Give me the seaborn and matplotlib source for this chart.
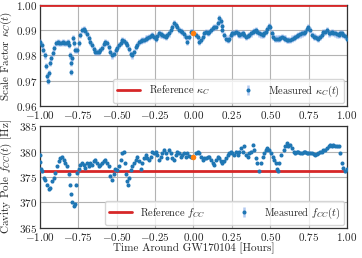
import matplotlib
matplotlib.use("Agg")
import matplotlib.pyplot as plt
import numpy as np
import pandas as pd
import seaborn as sns

# scale factor kappa_C(t), time in hours around GW170104
t_kappa = [
    -1.000, -0.989, -0.978, -0.967, -0.959, -0.953, -0.948, -0.943, -0.937, -0.928,
    -0.918, -0.907, -0.896, -0.885, -0.874, -0.863, -0.852, -0.841, -0.830, -0.819,
    -0.808, -0.802, -0.798, -0.795, -0.790, -0.785, -0.780, -0.770, -0.759, -0.748,
    -0.737, -0.726, -0.715, -0.704, -0.693, -0.682, -0.671, -0.660, -0.650, -0.639,
    -0.628, -0.617, -0.606, -0.596, -0.585, -0.574, -0.563, -0.552, -0.541, -0.530,
    -0.519, -0.507, -0.497, -0.486, -0.475, -0.464, -0.453, -0.442, -0.431, -0.420,
    -0.410, -0.399, -0.388, -0.377, -0.366, -0.355, -0.344, -0.334, -0.323, -0.312,
    -0.301, -0.290, -0.279, -0.268, -0.258, -0.247, -0.236, -0.225, -0.214, -0.203,
    -0.193, -0.182, -0.171, -0.160, -0.149, -0.138, -0.127, -0.117, -0.106, -0.095,
    -0.084, -0.073, -0.062, -0.052, -0.041, -0.030, -0.019, -0.008, 0.016, 0.027,
    0.038, 0.048, 0.059, 0.070, 0.081, 0.092, 0.103, 0.114, 0.124, 0.135,
    0.146, 0.157, 0.168, 0.178, 0.185, 0.189, 0.200, 0.211, 0.222, 0.233,
    0.244, 0.254, 0.265, 0.276, 0.287, 0.298, 0.309, 0.320, 0.330, 0.341,
    0.352, 0.363, 0.374, 0.385, 0.396, 0.406, 0.417, 0.428, 0.439, 0.450,
    0.461, 0.472, 0.482, 0.493, 0.500, 0.511, 0.521, 0.532, 0.543, 0.554,
    0.565, 0.576, 0.587, 0.597, 0.608, 0.619, 0.630, 0.641, 0.652, 0.663,
    0.674, 0.684, 0.695, 0.706, 0.717, 0.728, 0.739, 0.745, 0.756, 0.771,
    0.782, 0.793, 0.803, 0.814, 0.825, 0.836, 0.847, 0.858, 0.869, 0.880,
    0.891, 0.902, 0.912, 0.923, 0.934, 0.945, 0.956, 0.966, 0.977, 0.988,
    0.999,
]
kappa = [
    0.9853, 0.9840, 0.9820, 0.9800, 0.9760, 0.9720, 0.9700, 0.9730, 0.9770, 0.9790,
    0.9810, 0.9830, 0.9850, 0.9853, 0.9848, 0.9850, 0.9853, 0.9848, 0.9850, 0.9853,
    0.9840, 0.9800, 0.9770, 0.9735, 0.9790, 0.9870, 0.9850, 0.9820, 0.9820, 0.9850,
    0.9880, 0.9900, 0.9905, 0.9895, 0.9885, 0.9870, 0.9853, 0.9840, 0.9825, 0.9813,
    0.9813, 0.9815, 0.9820, 0.9830, 0.9845, 0.9853, 0.9850, 0.9833, 0.9813, 0.9800,
    0.9805, 0.9820, 0.9830, 0.9840, 0.9850, 0.9860, 0.9857, 0.9850, 0.9840, 0.9827,
    0.9807, 0.9800, 0.9813, 0.9833, 0.9840, 0.9853, 0.9857, 0.9860, 0.9863, 0.9867,
    0.9870, 0.9873, 0.9877, 0.9880, 0.9873, 0.9867, 0.9877, 0.9887, 0.9883, 0.9880,
    0.9877, 0.9873, 0.9880, 0.9887, 0.9900, 0.9913, 0.9927, 0.9920, 0.9913, 0.9900,
    0.9897, 0.9893, 0.9883, 0.9873, 0.9853, 0.9873, 0.9893, 0.9893, 0.9880, 0.9873,
    0.9853, 0.9860, 0.9873, 0.9887, 0.9893, 0.9890, 0.9893, 0.9900, 0.9907, 0.9913,
    0.9913, 0.9927, 0.9947, 0.9935, 0.9915, 0.9900, 0.9880, 0.9867, 0.9860, 0.9867,
    0.9880, 0.9887, 0.9890, 0.9893, 0.9887, 0.9880, 0.9883, 0.9887, 0.9880, 0.9873,
    0.9877, 0.9880, 0.9887, 0.9893, 0.9897, 0.9900, 0.9893, 0.9887, 0.9883, 0.9880,
    0.9887, 0.9893, 0.9905, 0.9915, 0.9913, 0.9887, 0.9875, 0.9867, 0.9867, 0.9867,
    0.9870, 0.9873, 0.9870, 0.9867, 0.9863, 0.9860, 0.9863, 0.9867, 0.9870, 0.9873,
    0.9877, 0.9880, 0.9883, 0.9887, 0.9890, 0.9893, 0.9905, 0.9913, 0.9900, 0.9880,
    0.9875, 0.9873, 0.9870, 0.9867, 0.9873, 0.9880, 0.9893, 0.9893, 0.9900, 0.9887,
    0.9890, 0.9893, 0.9890, 0.9887, 0.9883, 0.9880, 0.9887, 0.9887, 0.9880, 0.9877,
    0.9867,
]
kappa_err = 0.0012
kappa_ref = 1.0

# coupled cavity pole f_CC(t) in Hz
t_fcc = [
    -1.000, -0.997, -0.993, -0.987, -0.976, -0.965, -0.954, -0.943, -0.933, -0.922,
    -0.911, -0.900, -0.889, -0.879, -0.868, -0.857, -0.846, -0.835, -0.824, -0.813,
    -0.807, -0.798, -0.792, -0.781, -0.774, -0.765, -0.759, -0.748, -0.737, -0.726,
    -0.716, -0.705, -0.694, -0.683, -0.672, -0.661, -0.650, -0.640, -0.629, -0.618,
    -0.607, -0.596, -0.585, -0.574, -0.564, -0.553, -0.542, -0.531, -0.520, -0.509,
    -0.496, -0.486, -0.475, -0.464, -0.453, -0.446, -0.442, -0.436, -0.427, -0.420,
    -0.410, -0.399, -0.388, -0.377, -0.366, -0.355, -0.344, -0.334, -0.323, -0.312,
    -0.301, -0.290, -0.279, -0.268, -0.258, -0.247, -0.236, -0.225, -0.214, -0.203,
    -0.193, -0.182, -0.171, -0.160, -0.149, -0.138, -0.127, -0.117, -0.106, -0.095,
    -0.084, -0.073, -0.062, -0.052, -0.041, -0.030, -0.019, -0.008, 0.016, 0.027,
    0.038, 0.048, 0.059, 0.070, 0.081, 0.092, 0.103, 0.114, 0.124, 0.135,
    0.146, 0.157, 0.168, 0.178, 0.189, 0.200, 0.211, 0.222, 0.233, 0.244,
    0.254, 0.265, 0.276, 0.287, 0.298, 0.309, 0.320, 0.330, 0.341, 0.352,
    0.363, 0.374, 0.385, 0.396, 0.406, 0.417, 0.428, 0.439, 0.450, 0.461,
    0.472, 0.482, 0.493, 0.505, 0.516, 0.527, 0.538, 0.545, 0.550, 0.558,
    0.571, 0.587, 0.597, 0.608, 0.619, 0.630, 0.641, 0.652, 0.663, 0.674,
    0.684, 0.695, 0.706, 0.717, 0.728, 0.739, 0.749, 0.760, 0.771, 0.782,
    0.793, 0.804, 0.814, 0.825, 0.836, 0.847, 0.858, 0.869, 0.880, 0.890,
    0.901, 0.912, 0.923, 0.934, 0.945, 0.956, 0.966, 0.977, 0.988, 0.999,
]
fcc = [
    379.4, 378.0, 376.6, 376.1, 374.8, 374.5, 373.5, 372.6, 372.9, 374.2,
    374.8, 375.8, 377.1, 378.1, 378.7, 379.0, 378.4, 377.7, 377.1, 375.5,
    373.5, 371.6, 370.0, 369.4, 369.7, 373.5, 375.8, 376.5, 377.4, 377.7,
    377.4, 376.8, 377.7, 377.1, 377.7, 377.4, 378.1, 378.4, 377.7, 377.1,
    377.4, 377.7, 378.1, 378.4, 377.7, 377.1, 375.2, 374.5, 375.5, 376.5,
    376.4, 377.1, 378.4, 379.7, 380.0, 377.7, 375.5, 374.2, 373.5, 374.8,
    376.4, 377.1, 377.7, 378.4, 379.0, 378.1, 376.5, 377.7, 378.7, 379.4,
    378.7, 378.4, 379.0, 380.0, 379.7, 380.0, 379.4, 378.4, 379.0, 379.7,
    380.3, 379.7, 378.7, 380.3, 379.7, 378.7, 378.4, 379.4, 380.0, 379.7,
    379.0, 379.4, 379.7, 379.0, 379.7, 379.2, 379.0, 378.9, 379.7, 380.0,
    379.7, 379.0, 378.4, 378.7, 378.7, 378.9, 379.0, 378.4, 377.7, 377.4,
    378.4, 379.0, 378.7, 378.1, 377.7, 378.1, 378.7, 379.3, 379.7, 380.0,
    379.7, 379.4, 379.9, 379.4, 380.0, 380.6, 380.0, 381.0, 379.4, 379.0,
    379.7, 380.0, 381.3, 380.3, 378.7, 377.7, 376.1, 377.7, 379.0, 379.7,
    380.3, 380.6, 380.3, 379.7, 379.0, 378.4, 377.7, 376.5, 376.1, 377.7,
    379.4, 380.3, 381.0, 381.6, 381.0, 381.3, 380.6, 380.0, 379.7, 379.9,
    380.0, 379.8, 379.7, 379.9, 380.0, 379.8, 379.7, 379.8, 379.7, 379.5,
    379.4, 379.6, 379.7, 379.9, 380.0, 380.2, 380.3, 380.6, 381.0, 381.3,
    381.0, 381.3, 381.1, 381.0, 381.0, 379.7, 377.7, 376.8, 376.1, 376.5,
]
fcc_err = 0.3
fcc_ref = 376.2

# event time point (orange)
t_event = [0.0]
kappa_event = [0.9888]
fcc_event = [379.0]

sns.set_theme(style="whitegrid")
plt.rcParams.update({
    "font.family": "serif",
    "font.serif": ["cmr10", "DejaVu Serif"],
    "mathtext.fontset": "cm",
    "axes.formatter.use_mathtext": True,
    "axes.edgecolor": "0.2",
    "axes.linewidth": 0.9,
    "grid.color": "0.7",
    "grid.linewidth": 0.8,
    "font.size": 8,
    "axes.labelsize": 8,
    "legend.fontsize": 7.5,
    "xtick.labelsize": 8,
    "ytick.labelsize": 8,
})

fig = plt.figure(figsize=(3.62, 2.58), dpi=100)
ax1 = fig.add_axes([0.1105, 0.589, 0.848, 0.392])
ax2 = fig.add_axes([0.1105, 0.1163, 0.848, 0.3953])

blue = "#1f77b4"
err_col = (0.45, 0.62, 0.9, 0.55)
math_fmt = matplotlib.ticker.FuncFormatter(lambda v, p: f"${v:.2f}$")
int_fmt = matplotlib.ticker.FuncFormatter(lambda v, p: f"${v:.0f}$")


def panel(ax, t, y, err, ref, t_ev, y_ev, ref_label, meas_label):
    ax.axhline(ref, color="#d62728", lw=2, label=ref_label, zorder=3)
    ax.errorbar(t, y, yerr=err, fmt=".", ms=3.8, color=blue, ecolor=err_col,
                elinewidth=1.8, label=meas_label, zorder=4)
    df = pd.DataFrame({"t": t_ev, "y": y_ev})
    sns.scatterplot(data=df, x="t", y="y", ax=ax, color="#ff7f0e", s=16,
                    linewidth=0, zorder=5)
    ax.set_xlim(-1.0, 1.0)
    ax.set_xticks(np.arange(-1.0, 1.01, 0.25))
    ax.xaxis.set_major_formatter(math_fmt)
    ax.set_xlabel("")
    ax.legend(loc="lower right", ncol=2, frameon=True,
              borderaxespad=0.3, columnspacing=2.6, handlelength=2.2)
    ax.tick_params(axis="both", length=0, pad=2)
    ax.yaxis.set_label_coords(-0.084, 0.5)


panel(ax1, t_kappa, kappa, kappa_err, kappa_ref, t_event, kappa_event,
      r"Reference $\kappa_C$", r"Measured $\kappa_C(t)$")
ax1.set_ylim(0.96, 1.0)
ax1.set_yticks([0.96, 0.97, 0.98, 0.99, 1.00])
ax1.yaxis.set_major_formatter(math_fmt)
ax1.set_ylabel(r"Scale Factor $\kappa_C(t)$")

panel(ax2, t_fcc, fcc, fcc_err, fcc_ref, t_event, fcc_event,
      r"Reference $f_{CC}$", r"Measured $f_{CC}(t)$")
ax2.set_ylim(365, 385)
ax2.set_yticks([365, 370, 375, 380, 385])
ax2.yaxis.set_major_formatter(int_fmt)
ax2.set_ylabel(r"Cavity Pole $f_{CC}(t)$ [Hz]")
ax2.set_xlabel("Time Around GW170104 [Hours]")
ax2.xaxis.set_label_coords(0.5, -0.145)

fig.savefig("out.png", dpi=100)
